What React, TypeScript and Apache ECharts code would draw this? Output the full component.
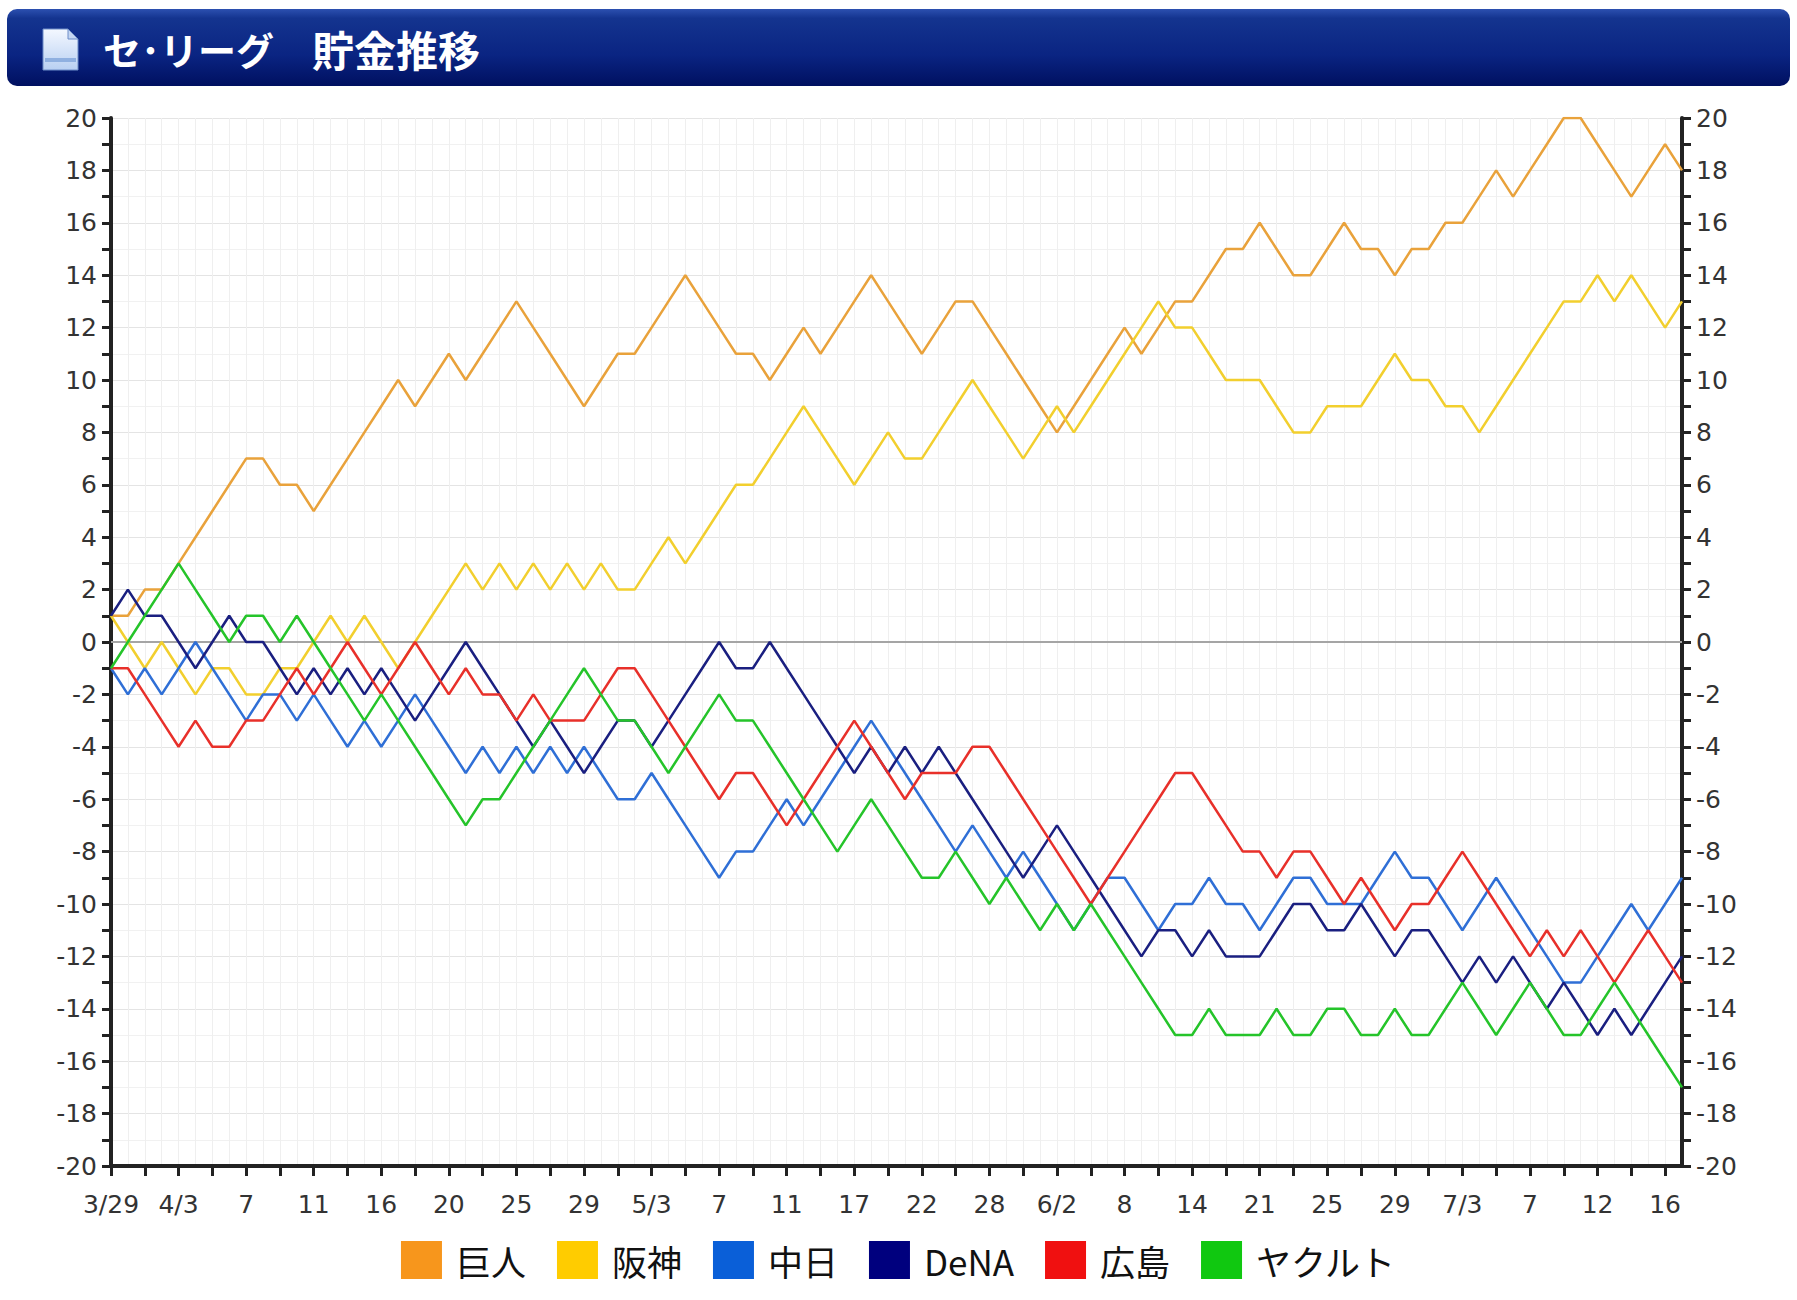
import React, { useEffect, useRef } from "react";
import * as echarts from "echarts";

const categories = [
  "3/29", "3/30", "3/31", "4/2",
  "4/3", "4/4", "4/5", "4/6",
  "4/7", "4/8", "4/9", "4/10",
  "4/11", "4/12", "4/13", "4/14",
  "4/16", "4/17", "4/18", "4/19",
  "4/20", "4/21", "4/23", "4/24",
  "4/25", "4/26", "4/27", "4/28",
  "4/29", "4/30", "5/1", "5/2",
  "5/3", "5/4", "5/5", "5/6",
  "5/7", "5/8", "5/9", "5/10",
  "5/11", "5/12", "5/14", "5/15",
  "5/17", "5/18", "5/19", "5/21",
  "5/22", "5/24", "5/25", "5/26",
  "5/28", "5/29", "5/31", "6/1",
  "6/2", "6/4", "6/5", "6/7",
  "6/8", "6/9", "6/11", "6/12",
  "6/14", "6/15", "6/16", "6/18",
  "6/21", "6/22", "6/23", "6/24",
  "6/25", "6/26", "6/27", "6/28",
  "6/29", "6/30", "7/1", "7/2",
  "7/3", "7/4", "7/5", "7/6",
  "7/7", "7/9", "7/10", "7/11",
  "7/12", "7/13", "7/14", "7/15",
  "7/16", "7/17",
];

const teams = ["巨人", "阪神", "中日", "DeNA", "広島", "ヤクルト"];

const giants = [
  1, 1, 2, 2, 3, 4, 5, 6, 7, 7,
  6, 6, 5, 6, 7, 8, 9, 10, 9, 10,
  11, 10, 11, 12, 13, 12, 11, 10, 9, 10,
  11, 11, 12, 13, 14, 13, 12, 11, 11, 10,
  11, 12, 11, 12, 13, 14, 13, 12, 11, 12,
  13, 13, 12, 11, 10, 9, 8, 9, 10, 11,
  12, 11, 12, 13, 13, 14, 15, 15, 16, 15,
  14, 14, 15, 16, 15, 15, 14, 15, 15, 16,
  16, 17, 18, 17, 18, 19, 20, 20, 19, 18,
  17, 18, 19, 18,
];

const hanshin = [
  1, 0, -1, 0, -1, -2, -1, -1, -2, -2,
  -1, -1, 0, 1, 0, 1, 0, -1, 0, 1,
  2, 3, 2, 3, 2, 3, 2, 3, 2, 3,
  2, 2, 3, 4, 3, 4, 5, 6, 6, 7,
  8, 9, 8, 7, 6, 7, 8, 7, 7, 8,
  9, 10, 9, 8, 7, 8, 9, 8, 9, 10,
  11, 12, 13, 12, 12, 11, 10, 10, 10, 9,
  8, 8, 9, 9, 9, 10, 11, 10, 10, 9,
  9, 8, 9, 10, 11, 12, 13, 13, 14, 13,
  14, 13, 12, 13,
];

const chunichi = [
  -1, -2, -1, -2, -1, 0, -1, -2, -3, -2,
  -2, -3, -2, -3, -4, -3, -4, -3, -2, -3,
  -4, -5, -4, -5, -4, -5, -4, -5, -4, -5,
  -6, -6, -5, -6, -7, -8, -9, -8, -8, -7,
  -6, -7, -6, -5, -4, -3, -4, -5, -6, -7,
  -8, -7, -8, -9, -8, -9, -10, -11, -10, -9,
  -9, -10, -11, -10, -10, -9, -10, -10, -11, -10,
  -9, -9, -10, -10, -10, -9, -8, -9, -9, -10,
  -11, -10, -9, -10, -11, -12, -13, -13, -12, -11,
  -10, -11, -10, -9,
];

const dena = [
  1, 2, 1, 1, 0, -1, 0, 1, 0, 0,
  -1, -2, -1, -2, -1, -2, -1, -2, -3, -2,
  -1, 0, -1, -2, -3, -4, -3, -4, -5, -4,
  -3, -3, -4, -3, -2, -1, 0, -1, -1, 0,
  -1, -2, -3, -4, -5, -4, -5, -4, -5, -4,
  -5, -6, -7, -8, -9, -8, -7, -8, -9, -10,
  -11, -12, -11, -11, -12, -11, -12, -12, -12, -11,
  -10, -10, -11, -11, -10, -11, -12, -11, -11, -12,
  -13, -12, -13, -12, -13, -14, -13, -14, -15, -14,
  -15, -14, -13, -12,
];

const hiroshima = [
  -1, -1, -2, -3, -4, -3, -4, -4, -3, -3,
  -2, -1, -2, -1, 0, -1, -2, -1, 0, -1,
  -2, -1, -2, -2, -3, -2, -3, -3, -3, -2,
  -1, -1, -2, -3, -4, -5, -6, -5, -5, -6,
  -7, -6, -5, -4, -3, -4, -5, -6, -5, -5,
  -5, -4, -4, -5, -6, -7, -8, -9, -10, -9,
  -8, -7, -6, -5, -5, -6, -7, -8, -8, -9,
  -8, -8, -9, -10, -9, -10, -11, -10, -10, -9,
  -8, -9, -10, -11, -12, -11, -12, -11, -12, -13,
  -12, -11, -12, -13,
];

const yakult = [
  -1, 0, 1, 2, 3, 2, 1, 0, 1, 1,
  0, 1, 0, -1, -2, -3, -2, -3, -4, -5,
  -6, -7, -6, -6, -5, -4, -3, -2, -1, -2,
  -3, -3, -4, -5, -4, -3, -2, -3, -3, -4,
  -5, -6, -7, -8, -7, -6, -7, -8, -9, -9,
  -8, -9, -10, -9, -10, -11, -10, -11, -10, -11,
  -12, -13, -14, -15, -15, -14, -15, -15, -15, -14,
  -15, -15, -14, -14, -15, -15, -14, -15, -15, -14,
  -13, -14, -15, -14, -13, -14, -15, -15, -14, -13,
  -14, -15, -16, -17,
];

const lineColors = ["#E9A23B", "#F2CF2E", "#2F6FD6", "#1A1F80", "#E8302A", "#25C42A"];
const swatchColors = ["#F7961C", "#FFCC00", "#0A5FD8", "#00007E", "#F01010", "#10C810"];

const titleLeft = "セ･リーグ";
const titleRight = "貯金推移";

export default function App() {
  const ref = useRef<HTMLDivElement>(null);

  useEffect(() => {
    const chart = echarts.init(ref.current as HTMLDivElement, null, { renderer: "svg" });
    const values = [giants, hanshin, chunichi, dena, hiroshima, yakult];
    const labelFont = "DejaVu Sans";
    const axisColor = "#222";

    const monthOf = (s: string) => s.split("/")[0];
    const dayOf = (s: string) => s.split("/")[1];

    const series: any[] = teams.map((name, k) => {
      const s: any = {
        name,
        type: "line",
        data: values[k],
        symbol: "none",
        showSymbol: false,
        lineStyle: { color: lineColors[k], width: 2.5 },
        itemStyle: { color: swatchColors[k] },
        emphasis: { disabled: true },
        z: 3,
      };
      if (k === 0) {
        s.markLine = {
          silent: true,
          symbol: "none",
          label: { show: false },
          lineStyle: { color: "#a5a5a5", width: 2, type: "solid" },
          data: [{ yAxis: 0 }],
          z: 1,
        };
      }
      return s;
    });

    const yAxisBase = {
      type: "value",
      min: -20,
      max: 20,
      interval: 2,
      axisLine: { show: true, onZero: false, lineStyle: { color: axisColor, width: 4 } },
      axisTick: { show: true, length: 9, lineStyle: { color: axisColor, width: 3 } },
      minorTick: { show: true, splitNumber: 2, length: 9, lineStyle: { color: axisColor, width: 3 } },
      axisLabel: { margin: 14, color: "#333", fontSize: 25, fontFamily: labelFont },
    };

    const option: any = {
      animation: false,
      backgroundColor: "#ffffff",
      grid: { left: 111, right: 115, top: 118, bottom: 134, containLabel: false },
      legend: {
        top: 1236,
        left: "center",
        icon: "rect",
        itemWidth: 41,
        itemHeight: 38,
        itemGap: 31,
        selectedMode: false,
        textStyle: {
          fontSize: 35,
          color: "#111",
          fontFamily: '"Noto Sans CJK JP", sans-serif',
          padding: [0, 0, 0, 9],
        },
        data: teams.map((n, k) => ({ name: n, itemStyle: { color: swatchColors[k] } })),
      },
      xAxis: {
        type: "category",
        data: categories,
        boundaryGap: false,
        axisLine: { show: true, onZero: false, lineStyle: { color: axisColor, width: 4 } },
        axisTick: { show: true, interval: 1, length: 10, lineStyle: { color: axisColor, width: 3 } },
        axisLabel: {
          interval: 3,
          margin: 26,
          color: "#333",
          fontSize: 25,
          fontFamily: labelFont,
          formatter: (value: string, index: number) => {
            if (index === 0) return value;
            const prev = categories[index - 4];
            if (prev && monthOf(prev) === monthOf(value)) return dayOf(value);
            return value;
          },
        },
        splitLine: { show: true, interval: 0, lineStyle: { color: "#efefef", width: 1 } },
      },
      yAxis: [
        {
          ...yAxisBase,
          position: "left",
          splitLine: { show: true, lineStyle: { color: "#e4e4e4", width: 1 } },
          minorSplitLine: { show: true, lineStyle: { color: "#f1f1f1", width: 1 } },
        },
        {
          ...yAxisBase,
          position: "right",
          splitLine: { show: false },
          minorSplitLine: { show: false },
        },
      ],
      graphic: [
        {
          type: "rect",
          shape: { x: 7, y: 9, width: 1783, height: 77, r: 10 },
          style: {
            fill: new echarts.graphic.LinearGradient(0, 0, 0, 1, [
              { offset: 0, color: "#2c50b0" },
              { offset: 0.12, color: "#14348f" },
              { offset: 0.6, color: "#0a2482" },
              { offset: 1, color: "#001060" },
            ]),
          },
          z: 0,
        },
        {
          type: "polygon",
          shape: { points: [[43, 29], [68, 29], [78, 39], [78, 70], [43, 70]] },
          style: {
            fill: new echarts.graphic.LinearGradient(0, 0, 0, 1, [
              { offset: 0, color: "#f4f8ff" },
              { offset: 1, color: "#b8d0f2" },
            ]),
            stroke: "#6d8cc8",
            lineWidth: 1,
          },
          z: 1,
        },
        {
          type: "polygon",
          shape: { points: [[68, 29], [68, 39], [78, 39]] },
          style: { fill: "#c4d6f2", stroke: "#6d8cc8", lineWidth: 1 },
          z: 2,
        },
        {
          type: "rect",
          shape: { x: 45, y: 58, width: 31, height: 4 },
          style: { fill: "#8fb0e0" },
          z: 2,
        },
        {
          type: "text",
          x: 103,
          y: 48,
          style: {
            text: titleLeft,
            fill: "#ffffff",
            fontSize: 38,
            fontWeight: "bold",
            fontFamily: '"Noto Sans CJK JP", sans-serif',
            textVerticalAlign: "middle",
            verticalAlign: "middle",
          },
          z: 2,
        },
        {
          type: "text",
          x: 312,
          y: 48,
          style: {
            text: titleRight,
            fill: "#ffffff",
            fontSize: 42,
            fontWeight: "bold",
            fontFamily: '"Noto Sans CJK JP", sans-serif',
            textVerticalAlign: "middle",
            verticalAlign: "middle",
          },
          z: 2,
        },
      ],
      series,
    };

    chart.setOption(option);
    return () => chart.dispose();
  }, []);

  return (
    <div
      ref={ref}
      style={{ position: "absolute", left: 0, top: 0, width: 1797, height: 1300, background: "#fff" }}
    />
  );
}
